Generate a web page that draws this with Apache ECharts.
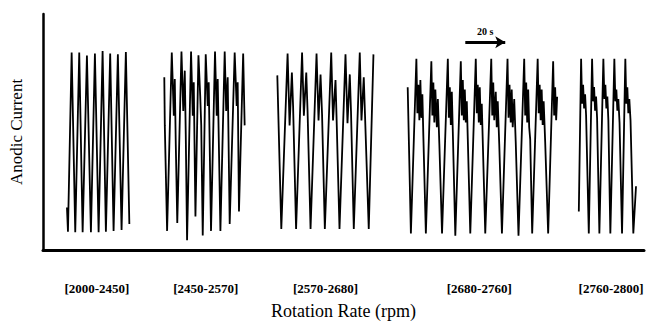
<!DOCTYPE html>
<html>
<head>
<meta charset="utf-8">
<script src="https://cdn.jsdelivr.net/npm/echarts@6/dist/echarts.min.js"></script>
<style>
  html, body { margin: 0; padding: 0; background: #fff; }
  #chart { width: 647px; height: 325px; }
</style>
</head>
<body>
<div id="chart"></div>
<script>
// time (s) along the composite axis, anodic current (arb. units)
var trace2000 = [
  [12, 18], [12.5, 7.7], [14.35, 83.7], [16.15, 7.5], [18.15, 83.7], [19.85, 7.5],
  [22, 82.4], [24, 7.5], [26, 83.3], [27.85, 7.5], [29.85, 84.3], [31.5, 7.7],
  [33.65, 83.3], [35.35, 8.1], [37.5, 82.9], [39.35, 8.5], [41.5, 83.9], [43.25, 11]
]
var trace2450 = [
  [60.75, 73.2], [61, 52.8], [62.15, 8.1], [64.5, 83.7], [65.5, 56.9], [66, 72.4], [66.5, 44.7],
  [67.25, 11.4], [69.35, 84.1], [70.25, 58.9], [71, 76], [71.5, 48.8],
  [72.15, 4.1], [74.15, 84.1], [75, 56.9], [75.5, 71.1],
  [76.35, 14.2], [77.85, 82.5], [78.75, 65], [79.25, 52.8],
  [80, 6.1], [81.5, 82.9], [82.5, 61], [83, 71.1],
  [84.15, 8.1], [86.15, 84.1], [87, 56.9], [87.5, 72.4],
  [88.85, 8.1], [91, 84.1], [91.75, 58.9], [92.5, 73.2],
  [93.5, 11], [96, 83.7], [97, 61], [97.5, 71.1],
  [98.15, 16.3], [100.25, 83.3], [101, 52.8]
]
var trace2570 = [
  [117.35, 74], [119.35, 8.9], [122.5, 83.3], [123.5, 52.8], [124.65, 75.2], [125.25, 61],
  [126.75, 8.9], [129.75, 83.7], [130.65, 56.9], [131.85, 75.2], [132.5, 58.9],
  [134, 8.9], [137, 83.3], [138, 54.9], [139, 74.4], [139.75, 57.7],
  [141.15, 8.9], [144.35, 83.7], [145.25, 54.9], [146.5, 72], [147, 56.9],
  [148.5, 8.9], [151.5, 82.9], [152.5, 53.7], [153.65, 74.4], [154.25, 58.9],
  [155.65, 8.9], [158.65, 83.7], [159.5, 54.9], [160.65, 73.2], [161.25, 57.7],
  [163.15, 8.9], [165.5, 82.9]
]
var trace2680 = [
  [182.65, 69], [184.25, 7], [187, 81],
  [187.5, 58], [188, 70], [188.5, 55], [189, 72], [189.5, 56], [190, 66], [190.5, 48],
  [191.75, 7], [194.5, 80],
  [195, 57], [195.5, 71], [196, 54], [196.5, 68], [197.25, 52], [197.75, 64], [198.5, 45],
  [199.85, 7], [202.75, 81],
  [203.25, 56], [203.75, 69], [204.25, 53], [204.75, 67], [205.25, 50],
  [206.5, 6], [209.25, 80],
  [209.75, 57], [210.25, 72], [210.75, 55], [211.25, 68], [211.75, 54], [212.25, 63], [212.75, 47],
  [214, 7], [216.75, 81],
  [217.25, 58], [217.75, 70], [218.25, 54], [218.75, 69], [219.25, 53], [219.75, 62], [220.25, 46],
  [221.5, 7], [224.5, 81],
  [225, 57], [225.5, 71], [226, 55], [226.75, 67], [227.25, 52], [227.75, 63], [228.5, 45],
  [229.85, 7], [232.65, 81],
  [233.15, 56], [233.65, 70], [234.25, 54], [234.75, 68], [235.25, 52], [236, 64], [236.75, 46],
  [238.15, 6], [241, 81],
  [241.5, 57], [242, 71], [242.5, 54], [243, 68], [243.5, 52], [244, 47],
  [245, 7], [247.75, 81],
  [248.25, 58], [248.75, 70], [249.25, 55], [249.75, 68], [250.25, 53], [250.75, 63], [251.5, 46],
  [253, 7], [255.5, 80],
  [256, 57], [256.5, 69], [257, 55], [257.5, 65]
]
var trace2760 = [
  [268.35, 16.3], [269.5, 81],
  [270, 62], [270.5, 70], [271, 60], [271.5, 66], [272, 57],
  [273.35, 7], [275, 81],
  [275.5, 63], [276, 69], [276.5, 59], [277, 65], [277.5, 56],
  [278.65, 7], [280.65, 81],
  [281.15, 64], [281.65, 70], [282.15, 60], [282.65, 65], [283.15, 55],
  [284.15, 7], [286.15, 81],
  [286.65, 63], [287.15, 68], [287.65, 59], [288.15, 64], [288.75, 54],
  [290, 7], [291.65, 81],
  [292.15, 62], [292.65, 69], [293.15, 58], [293.65, 64], [294.25, 55],
  [295.65, 7], [297, 27]
]

var traces = [trace2000, trace2450, trace2570, trace2680, trace2760]
var rangeLabels = ['[2000-2450]', '[2450-2570]', '[2570-2680]', '[2680-2760]', '[2760-2800]']
var rangeCenters = [27, 81.5, 141.5, 218.5, 284.5]

// 20 s scale bar
var scaleStart = 211.5
var scaleLength = 20
var scaleLevel = 88

var serif = '"Liberation Serif", "DejaVu Serif", serif'

var series = traces.map(function(d, i) {
  return {
    name: rangeLabels[i],
    type: 'line',
    data: d,
    showSymbol: false,
    symbol: 'none',
    lineStyle: { color: '#000', width: 1.8 },
    animation: false
  }
})

series[3].markLine = {
  silent: true,
  symbol: ['none', 'arrow'],
  symbolSize: [9, 10],
  lineStyle: { color: '#000', width: 3, type: 'solid' },
  label: {
    show: true,
    position: 'insideMiddleTop',
    distance: 6,
    formatter: '20 s',
    color: '#000',
    fontFamily: serif,
    fontWeight: 'bold',
    fontSize: 10
  },
  data: [[
    { coord: [scaleStart, scaleLevel] },
    { coord: [scaleStart + scaleLength, scaleLevel] }
  ]]
}

var chart = echarts.init(document.getElementById('chart'), null, { renderer: 'svg' })
chart.setOption({
  backgroundColor: '#fff',
  animation: false,
  grid: { left: 42, right: 3, top: 14, bottom: 65 },
  xAxis: {
    type: 'value',
    min: 0,
    max: 301,
    name: 'Rotation Rate (rpm)',
    nameLocation: 'middle',
    nameGap: 52,
    nameTextStyle: { fontFamily: serif, fontSize: 18, color: '#000' },
    axisLine: { show: true, onZero: false, lineStyle: { color: '#000', width: 3 } },
    axisTick: { show: false },
    splitLine: { show: false },
    axisLabel: {
      customValues: rangeCenters,
      margin: 32,
      fontFamily: serif,
      fontWeight: 'bold',
      fontSize: 13,
      color: '#000',
      formatter: function(val) {
        var k = 0
        for (var i = 0; i < rangeCenters.length; i++) {
          if (Math.abs(rangeCenters[i] - val) < Math.abs(rangeCenters[k] - val)) k = i
        }
        return rangeLabels[k]
      }
    }
  },
  yAxis: {
    type: 'value',
    min: 0,
    max: 100,
    name: 'Anodic Current',
    nameLocation: 'middle',
    nameGap: 18,
    nameTextStyle: { fontFamily: serif, fontSize: 17, color: '#000' },
    axisLine: { show: true, lineStyle: { color: '#000', width: 2.5 } },
    axisTick: { show: false },
    axisLabel: { show: false },
    splitLine: { show: false }
  },
  series: series
})
</script>
</body>
</html>
